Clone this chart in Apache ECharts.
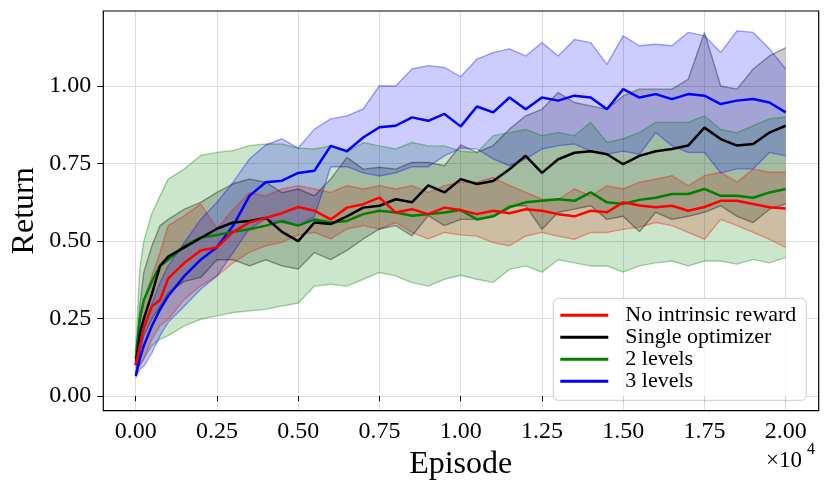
<!DOCTYPE html>
<html>
<head>
<meta charset="utf-8">
<script src="https://cdn.jsdelivr.net/npm/echarts@6/dist/echarts.min.js"></script>
<style>html,body{margin:0;padding:0;background:#fff}#c{width:830px;height:492px}</style>
</head>
<body>
<div id="c"></div>
<script>
const episodes = [0,125,250,500,750,1000,1500,2000,2500,3000,3500,4000,4500,5000,5500,6000,6500,7000,7500,8000,8500,9000,9500,10000,10500,11000,11500,12000,12500,13000,13500,14000,14500,15000,15500,16000,16500,17000,17500,18000,18500,19000,19500,20000];
const seriesNames = ['No intrinsic reward','Single optimizer','2 levels','3 levels'];

const redMean = [0.10,0.16,0.22,0.29,0.31,0.38,0.43,0.47,0.48,0.53,0.56,0.575,0.59,0.61,0.598,0.57,0.608,0.619,0.64,0.592,0.603,0.587,0.608,0.60,0.587,0.598,0.59,0.603,0.598,0.587,0.58,0.598,0.593,0.625,0.615,0.609,0.614,0.598,0.61,0.63,0.63,0.62,0.609,0.605];
const redHi = [0.11,0.226,0.31,0.388,0.464,0.55,0.582,0.62,0.54,0.603,0.657,0.646,0.668,0.679,0.668,0.657,0.679,0.668,0.679,0.668,0.679,0.657,0.679,0.69,0.69,0.705,0.68,0.657,0.635,0.635,0.668,0.646,0.678,0.668,0.69,0.70,0.711,0.678,0.711,0.722,0.69,0.732,0.722,0.722];
const redLo = [0.09,0.10,0.12,0.184,0.227,0.248,0.313,0.356,0.388,0.43,0.464,0.485,0.496,0.52,0.528,0.507,0.539,0.55,0.539,0.56,0.528,0.507,0.528,0.52,0.516,0.495,0.485,0.516,0.528,0.516,0.506,0.528,0.528,0.538,0.545,0.56,0.55,0.528,0.506,0.57,0.55,0.528,0.506,0.48];

const blackMean = [0.10,0.20,0.25,0.33,0.42,0.45,0.48,0.51,0.54,0.56,0.565,0.575,0.53,0.50,0.56,0.555,0.58,0.608,0.614,0.635,0.625,0.68,0.657,0.70,0.684,0.694,0.732,0.775,0.72,0.764,0.785,0.79,0.78,0.748,0.775,0.79,0.797,0.808,0.866,0.829,0.808,0.813,0.85,0.872];
const blackHi = [0.10,0.29,0.40,0.485,0.55,0.57,0.603,0.625,0.657,0.685,0.70,0.69,0.656,0.668,0.646,0.70,0.77,0.732,0.738,0.732,0.754,0.754,0.743,0.81,0.786,0.808,0.861,0.904,0.925,0.979,0.947,0.936,0.925,0.968,0.99,0.99,0.99,1.022,1.173,1.0,0.99,1.055,1.097,1.124];
const blackLo = [0.07,0.14,0.195,0.25,0.29,0.334,0.37,0.383,0.44,0.44,0.42,0.44,0.42,0.41,0.463,0.44,0.47,0.507,0.539,0.55,0.517,0.582,0.55,0.57,0.57,0.58,0.614,0.614,0.538,0.593,0.603,0.614,0.57,0.58,0.53,0.593,0.57,0.58,0.593,0.614,0.58,0.56,0.603,0.62];

const greenMean = [0.12,0.25,0.31,0.37,0.42,0.44,0.485,0.512,0.52,0.53,0.538,0.55,0.565,0.55,0.57,0.56,0.565,0.587,0.598,0.592,0.582,0.587,0.592,0.60,0.57,0.58,0.609,0.625,0.63,0.635,0.63,0.657,0.625,0.62,0.633,0.64,0.652,0.652,0.668,0.646,0.646,0.64,0.657,0.668];
const greenHi = [0.15,0.41,0.50,0.59,0.646,0.70,0.733,0.776,0.786,0.792,0.808,0.813,0.813,0.80,0.797,0.807,0.786,0.818,0.807,0.797,0.818,0.807,0.807,0.79,0.786,0.84,0.85,0.86,0.84,0.85,0.84,0.883,0.818,0.83,0.85,0.883,0.883,0.883,0.904,0.86,0.85,0.872,0.894,0.90];
const greenLo = [0.08,0.097,0.12,0.163,0.184,0.195,0.227,0.248,0.259,0.27,0.275,0.28,0.291,0.30,0.355,0.361,0.355,0.377,0.399,0.388,0.366,0.355,0.377,0.39,0.377,0.367,0.409,0.42,0.40,0.44,0.43,0.42,0.42,0.40,0.42,0.43,0.436,0.42,0.436,0.436,0.426,0.441,0.43,0.447];

const blueMean = [0.065,0.12,0.163,0.227,0.28,0.323,0.388,0.44,0.48,0.55,0.646,0.69,0.695,0.72,0.727,0.807,0.79,0.834,0.867,0.872,0.899,0.888,0.91,0.87,0.934,0.915,0.963,0.925,0.963,0.953,0.969,0.963,0.925,0.99,0.963,0.974,0.958,0.974,0.969,0.942,0.953,0.958,0.947,0.915];
const blueHi = [0.07,0.163,0.227,0.30,0.367,0.42,0.496,0.57,0.625,0.69,0.765,0.81,0.83,0.80,0.861,0.894,0.904,0.926,1.001,1.0,1.055,1.066,1.06,1.03,1.087,1.108,1.12,1.097,1.14,1.097,1.15,1.14,1.07,1.162,1.13,1.135,1.13,1.173,1.162,1.108,1.178,1.173,1.12,1.055];
const blueLo = [0.06,0.087,0.097,0.14,0.195,0.238,0.291,0.345,0.388,0.464,0.54,0.571,0.56,0.55,0.58,0.74,0.74,0.72,0.71,0.72,0.74,0.74,0.775,0.80,0.797,0.765,0.743,0.765,0.797,0.808,0.813,0.79,0.78,0.79,0.78,0.85,0.808,0.786,0.786,0.72,0.733,0.733,0.786,0.775];

const colors = ['#ff0000','#000000','#008000','#0000ff'];
const means = [redMean, blackMean, greenMean, blueMean];
const his = [redHi, blackHi, greenHi, blueHi];
const los = [redLo, blackLo, greenLo, blueLo];

const FONT = 'Liberation Serif';
const zip = (ys) => episodes.map((x, i) => [x, ys[i]]);

const series = [];
for (let k = 0; k < 4; k++) {
  const c = colors[k];
  const lo = los[k], hi = his[k];
  // filled band between lower and upper curves, positioned via the axes' scales
  series.push({
    type: 'custom', name: 'band' + k, xAxisIndex: 2, yAxisIndex: 2,
    data: [[episodes[0], lo[0]]], silent: true, z: 2,
    renderItem: function (params, api) {
      const pts = [];
      for (let i = 0; i < episodes.length; i++) pts.push(api.coord([episodes[i], hi[i]]));
      for (let i = episodes.length - 1; i >= 0; i--) pts.push(api.coord([episodes[i], lo[i]]));
      return { type: 'polygon', shape: { points: pts }, style: { fill: c, opacity: 0.2 } };
    }
  });
  series.push({
    type: 'line', name: 'lo' + k, xAxisIndex: 2, yAxisIndex: 2,
    data: zip(lo), symbol: 'none', silent: true,
    lineStyle: { color: c, width: 1.4, opacity: 0.35 }, z: 3
  });
  series.push({
    type: 'line', name: 'hi' + k, xAxisIndex: 2, yAxisIndex: 2,
    data: zip(hi), symbol: 'none', silent: true,
    lineStyle: { color: c, width: 1.4, opacity: 0.35 }, z: 3
  });
}
const lineOrder = [3, 2, 1, 0];
for (const k of lineOrder) {
  series.push({
    type: 'line', name: seriesNames[k], xAxisIndex: 2, yAxisIndex: 2,
    data: zip(means[k]), symbol: 'none', silent: true,
    itemStyle: { color: colors[k] },
    lineStyle: { color: colors[k], width: 2.5 }, z: 5
  });
}

const chart = echarts.init(document.getElementById('c'), null, { renderer: 'canvas' });
chart.setOption({
  animation: false,
  backgroundColor: '#ffffff',
  textStyle: { fontFamily: FONT },
  grid: [
    { left: 103.3, top: 11, width: 715.4, height: 399.7, show: true, borderColor: '#000', borderWidth: 1.2, backgroundColor: 'transparent', outerBoundsMode: 'none', z: 6 },
    { left: 103.3, top: 86, width: 715.4, height: 310, outerBoundsMode: 'none' },
    { left: 135.7, top: 11, width: 650, height: 399.7, outerBoundsMode: 'none' }
  ],
  xAxis: [
    { gridIndex: 0, type: 'value', min: 0, max: 1, show: false },
    { gridIndex: 1, type: 'value', min: 0, max: 1, show: false },
    { gridIndex: 2, type: 'value', min: 0, max: 20000, interval: 2500,
      axisLine: { show: false },
      axisTick: { show: true, length: 5, inside: false, lineStyle: { color: '#000', width: 1 } },
      axisLabel: { show: true, margin: 9, color: '#000', fontSize: 24, fontFamily: FONT,
        formatter: (v) => (v / 10000).toFixed(2) },
      splitLine: { show: true, lineStyle: { color: '#dedede', width: 1 } },
      name: 'Episode', nameLocation: 'middle', nameGap: 38,
      nameTextStyle: { fontSize: 32, color: '#000', fontFamily: FONT } }
  ],
  yAxis: [
    { gridIndex: 0, type: 'value', min: 0, max: 1,
      axisLine: { show: false }, axisTick: { show: false }, axisLabel: { show: false }, splitLine: { show: false },
      name: 'Return', nameLocation: 'middle', nameGap: 63, nameRotate: 90,
      nameTextStyle: { fontSize: 32, color: '#000', fontFamily: FONT } },
    { gridIndex: 1, type: 'value', min: 0, max: 1, interval: 0.25,
      axisLine: { show: false },
      axisTick: { show: true, length: 6, inside: false, lineStyle: { color: '#000', width: 1 } },
      axisLabel: { show: true, margin: 12, color: '#000', fontSize: 24, fontFamily: FONT,
        formatter: (v) => v.toFixed(2) },
      splitLine: { show: true, lineStyle: { color: '#dedede', width: 1 } } },
    { gridIndex: 2, type: 'value', min: -0.0468, max: 1.242, show: false }
  ],
  legend: {
    data: seriesNames.map(n => ({ name: n, icon: 'rect' })),
    orient: 'vertical', left: 553.3, top: 298.3,
    itemWidth: 48, itemHeight: 3, itemGap: 0,
    padding: [6, 10, 8, 7],
    backgroundColor: 'rgba(255,255,255,0.8)', borderColor: '#cccccc', borderWidth: 1, borderRadius: 5,
    textStyle: { fontSize: 22, fontFamily: FONT, color: '#000', lineHeight: 21.3, padding: [0, 0, 0, 12] },
    selectedMode: false, z: 10
  },
  graphic: [
    { type: 'text', left: 766, top: 449, z: 10, style: { text: '×10', fontSize: 23, fontFamily: FONT, fill: '#000' } },
    { type: 'text', left: 807, top: 442, z: 10, style: { text: '4', fontSize: 16, fontFamily: FONT, fill: '#000' } }
  ],
  series: series
});
</script>
</body>
</html>
